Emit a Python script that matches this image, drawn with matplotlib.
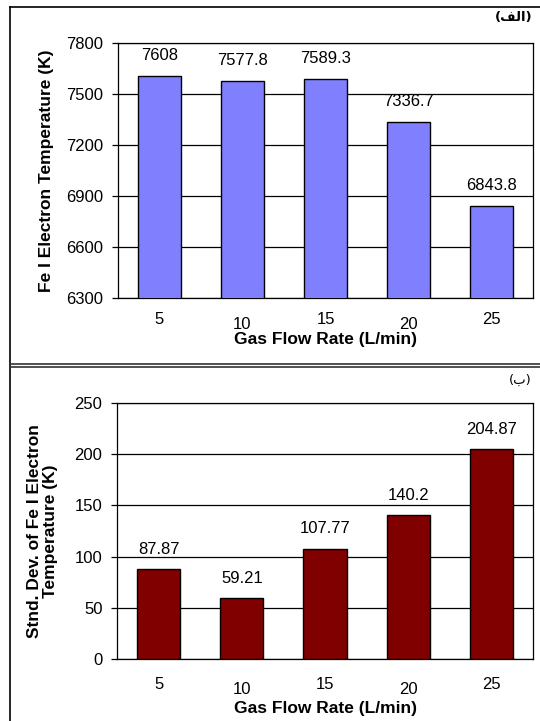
import matplotlib.pyplot as plt
from matplotlib.lines import Line2D

plt.rcParams['font.family'] = ['Liberation Sans', 'DejaVu Sans']

# gas flow rate categories (L/min)
flow_rates = ['5', '10', '15', '20', '25']
# Fe I electron temperature (K)
temp_values = [7608, 7577.8, 7589.3, 7336.7, 6843.8]
temp_labels = ['7608', '7577.8', '7589.3', '7336.7', '6843.8']
# standard deviation of the temperature (K)
std_values = [87.87, 59.21, 107.77, 140.2, 204.87]
std_labels = ['87.87', '59.21', '107.77', '140.2', '204.87']

fig = plt.figure(figsize=(5.4, 7.21), dpi=100)

# panel frames
fig.add_artist(Line2D([10/540, 10/540], [0, 1 - 7/721], color='black', lw=1.2))
fig.add_artist(Line2D([10/540, 1], [1 - 7/721, 1 - 7/721], color='black', lw=1.2))
fig.add_artist(Line2D([10/540, 1], [1 - 364/721, 1 - 364/721], color='#333333', lw=1.2))
fig.add_artist(Line2D([10/540, 1], [1 - 367/721, 1 - 367/721], color='#333333', lw=1.2))

ax1 = fig.add_axes([118/540, 1 - 298/721, 415/540, 255/721])
ax2 = fig.add_axes([117/540, 1 - 659/721, 416/540, 256/721])


def draw_panel(ax, values, labels, color, ylim, yticks, ylabel, xpad):
    x = range(len(flow_rates))
    ax.bar(x, values, width=0.52, color=color, edgecolor='black', linewidth=1.0,
           zorder=3)
    ax.set_ylim(ylim)
    ax.set_xlim(-0.5, len(flow_rates) - 0.5)
    ax.set_yticks(yticks)
    ax.set_yticklabels([str(t) for t in yticks], fontsize=12)
    ax.set_xticks(list(x))
    ax.set_xticklabels(flow_rates, fontsize=12)
    ax.grid(axis='y', color='black', lw=0.9, zorder=1)
    ax.tick_params(axis='y', direction='out', length=4.5, width=0.9, pad=6)
    ax.tick_params(axis='x', length=0, pad=xpad)
    # staggered category labels
    for i, tick in enumerate(ax.xaxis.get_major_ticks()):
        if i % 2 == 1:
            tick.set_pad(xpad + 3.5)
    for s in ax.spines.values():
        s.set_linewidth(0.9)
    for xi, v, lab in zip(x, values, labels):
        ax.annotate(lab, (xi, v), xytext=(0, 9), textcoords='offset points',
                    ha='center', va='bottom', fontsize=12)
    ax.set_xlabel('Gas Flow Rate (L/min)', fontsize=12.5, fontweight='bold',
                  labelpad=xpad - 10)
    ax.set_ylabel(ylabel, fontsize=12.5, fontweight='bold', linespacing=1.1)


draw_panel(ax1, temp_values, temp_labels, '#8080FF',
           (6300, 7800), [6300, 6600, 6900, 7200, 7500, 7800],
           'Fe I Electron Temperature (K)', 10)
draw_panel(ax2, std_values, std_labels, '#800000',
           (0, 250), [0, 50, 100, 150, 200, 250],
           'Stnd. Dev. of Fe I Electron\nTemperature (K)', 13)

ax1.yaxis.set_label_coords(-0.154, 0.5)
ax2.yaxis.set_label_coords(-0.142, 0.5)

# panel letters
fig.text(532/540, 1 - 17/721, '(\ufed2\ufedf\ufe8d)', ha='right', va='center',
         fontsize=9.5, fontweight='bold', family='DejaVu Sans')
fig.text(532/540, 1 - 380/721, '(\ufe8f)', ha='right', va='center',
         fontsize=9.5, family='DejaVu Sans')

fig.savefig('out.png', dpi=100)
